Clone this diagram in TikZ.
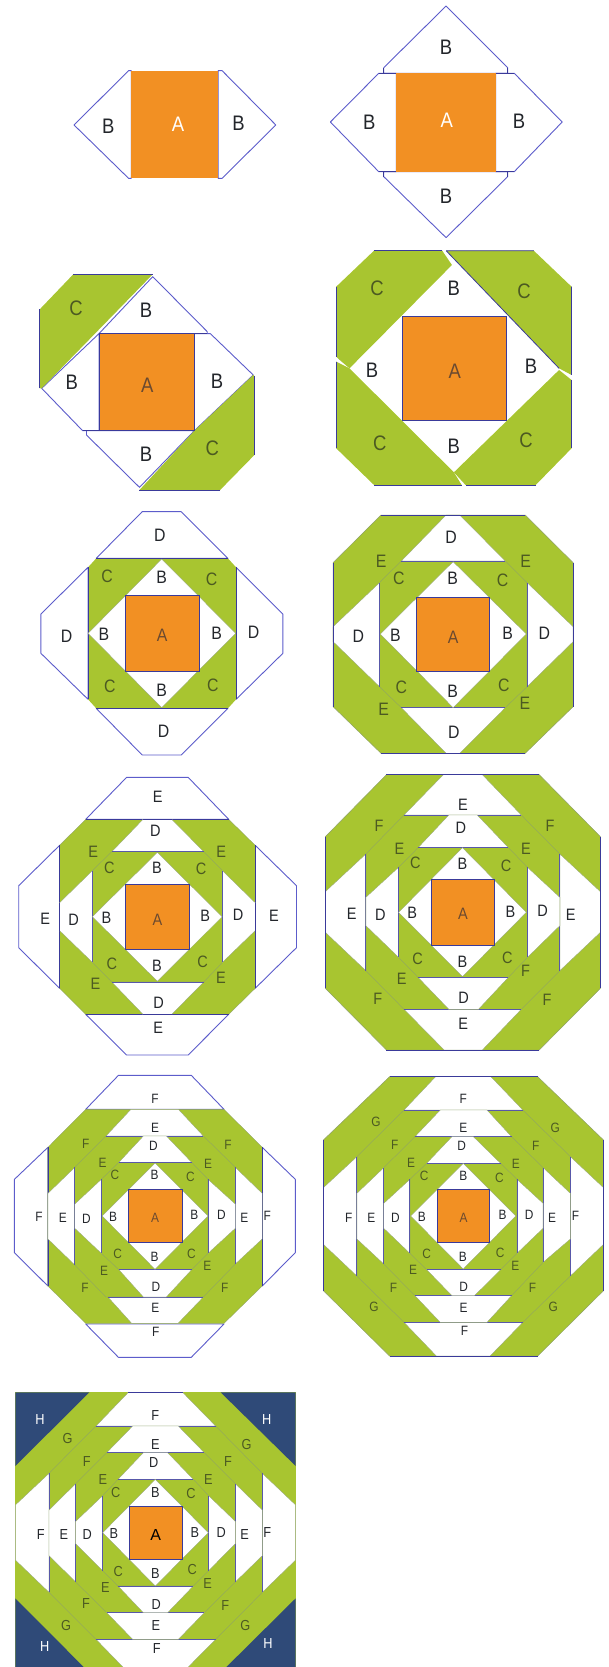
\documentclass[tikz,border=0pt]{standalone}
\usepackage{fontspec}
\setmainfont{Liberation Sans}
\definecolor{grn}{HTML}{A8C530}
\definecolor{org}{HTML}{F29023}
\definecolor{nvy}{HTML}{2F4A78}
\definecolor{lblu}{HTML}{5C5CCB}
\definecolor{dblu}{HTML}{3A3A9A}
\definecolor{edg}{HTML}{8FA268}
\definecolor{ink}{HTML}{23262B}
\definecolor{olv}{HTML}{4C5A22}
\definecolor{aink}{HTML}{6B4A30}
\tikzset{
  whitepiece/.style={fill=white,draw=edg,line width=0.35pt},
  outerpiece/.style={fill=white,draw=lblu,line width=0.9pt,line join=round},
  innerline/.style={draw=dblu!85!white,line width=0.8pt},
  ringgreen/.style={fill=grn,draw=edg,line width=0.35pt},
  outergreen/.style={fill=grn,draw=edg,line width=0.5pt,line join=round},
  sidegreen/.style={fill=grn,draw=none},
  edgeblue/.style={draw=dblu,line width=0.8pt},
  orangebox/.style={fill=org,draw=dblu,line width=0.8pt},
  plainorange/.style={fill=org,draw=none},
  hcorner/.style={fill=nvy,draw=none},
  lbl/.style={inner sep=0pt,font=\fontsize{\fs}{\fs}\selectfont},
}
\newcounter{lbc}
\def\fs{20}
\def\nar#1{\scalebox{0.88}[1]{#1}}
\def\lbl(#1)#2{\stepcounter{lbc}\node[lbl,text=ink] (n\thelbc) at (#1) {\nar{#2}};}
\def\lgr(#1)#2{\stepcounter{lbc}\node[lbl,text=olv] (n\thelbc) at (#1) {\nar{#2}};}
\def\lwh(#1)#2{\stepcounter{lbc}\node[lbl,text=white] (n\thelbc) at (#1) {\nar{#2}};}
\def\lor(#1)#2{\stepcounter{lbc}\node[lbl,text=aink] (n\thelbc) at (#1) {\nar{#2}};}
\def\wpc(#1)(#2)(#3)(#4){\filldraw[whitepiece] (#1)--(#2)--(#3)--(#4)--cycle; \draw[innerline] (#1)--(#2);}
\def\opc(#1)(#2)(#3)(#4){\filldraw[outerpiece] (#1)--(#2)--(#3)--(#4)--cycle;}
\def\octa[#1](#2)(#3)(#4)(#5)(#6)(#7)(#8)(#9){\filldraw[#1] (#2)--(#3)--(#4)--(#5)--(#6)--(#7)--(#8)--(#9)--cycle;}
\def\dia(#1)(#2)(#3)(#4){\filldraw[whitepiece] (#1)--(#2)--(#3)--(#4)--cycle;}
\def\orb(#1)(#2){\filldraw[orangebox] (#1) rectangle (#2);}
\begin{document}
\begin{tikzpicture}[x=1pt,y=1pt]
\useasboundingbox (0pt,0pt) rectangle (609pt,-1667pt);
\clip (0pt,0pt) rectangle (609pt,-1667pt);
%% top rows
\begin{scope}[x=0.3896pt,y=-0.33333pt]
\def\fs{21}
% block 1
\filldraw[outerpiece] (337,212)--(330,212)--(190,375)--(330,535)--(337,535)--cycle;
\filldraw[outerpiece] (560,212)--(570,212)--(708,375)--(570,535)--(560,535)--cycle;
\fill[plainorange] (337,212) rectangle (560,535);
\lbl(278,378){B}
\lwh(457,372){A}
\lbl(612,370){B}
% block 2
\filldraw[outerpiece] (985,220)--(985,203)--(1145,18)--(1303,203)--(1303,220)--cycle;
\filldraw[outerpiece] (985,515)--(985,530)--(1145,713)--(1303,530)--(1303,515)--cycle;
\filldraw[outerpiece] (1017,220)--(972,220)--(848,366)--(972,515)--(1017,515)--cycle;
\filldraw[outerpiece] (1272,220)--(1320,220)--(1443,366)--(1320,515)--(1272,515)--cycle;
\draw[edgeblue] (972,220)--(1017,220) (1272,220)--(1320,220) (972,515)--(1017,515) (1272,515)--(1320,515) (985,203)--(985,220) (1303,203)--(1303,220) (985,515)--(985,530) (1303,515)--(1303,530);
\fill[plainorange] (1017,220) rectangle (1272,515);
\lbl(1145,142){B}
\lbl(948,368){B}
\lwh(1147,360){A}
\lbl(1332,364){B}
\lbl(1145,588){B}
% block 3
\filldraw[outerpiece] (254,1001)--(392,830)--(532,995)--(532,1001)--cycle;
\filldraw[outerpiece] (499,1001)--(540,1001)--(650,1125)--(499,1292)--cycle;
\filldraw[outerpiece] (254,1001)--(107,1165)--(212,1292)--(254,1292)--cycle;
\filldraw[outerpiece] (222,1292)--(222,1305)--(358,1462)--(499,1292)--cycle;
\filldraw[sidegreen] (188,823)--(392,823)--(107,1165)--(102,1165)--(102,928)--cycle;
\draw[edgeblue] (392,823)--(188,823) (102,928)--(102,1165);
\filldraw[sidegreen] (650,1125)--(653,1128)--(653,1365)--(565,1470)--(358,1470)--(499,1292)--cycle;
\draw[edgeblue] (653,1128)--(653,1365) (565,1470)--(358,1470);
\draw[edgeblue] (499,1001)--(532,1001) (212,1292)--(254,1292);
\orb(254,1001)(499,1292)
\lgr(195,925){C}
\lbl(375,930){B}
\lbl(184,1148){B}
\lor(378,1155){A}
\lbl(557,1143){B}
\lbl(375,1362){B}
\lgr(545,1345){C}
% block 4
\filldraw[sidegreen] (960,752)--(1135,752)--(1160,795)--(897,1105)--(870,1078)--(863,1070)--(863,860)--cycle;
\draw[edgeblue] (1135,752)--(960,752) (863,860)--(863,1070);
\filldraw[sidegreen] (1145,752)--(1370,752)--(1467,860)--(1467,1125)--(1435,1105)--cycle;
\draw[edgeblue] (1145,752)--(1370,752) (1467,860)--(1467,1125) (1145,752)--(1435,1105);
\filldraw[sidegreen] (1467,1140)--(1467,1345)--(1375,1455)--(1195,1455)--(1165,1417)--(1435,1110)--cycle;
\draw[edgeblue] (1467,1140)--(1467,1345) (1375,1455)--(1195,1455);
\filldraw[sidegreen] (863,1085)--(863,1345)--(960,1455)--(1185,1455)--(1165,1417)--(897,1105)--cycle;
\draw[edgeblue] (863,1085)--(863,1345) (960,1455)--(1185,1455);
\orb(1032,948)(1300,1262)
\lgr(968,865){C}
\lbl(1165,865){B}
\lgr(1345,875){C}
\lbl(955,1110){B}
\lor(1167,1115){A}
\lbl(1363,1100){B}
\lgr(975,1330){C}
\lbl(1165,1340){B}
\lgr(1350,1320){C}
\end{scope}
%% row 3
\begin{scope}[x=0.3896pt,y=-0.33333pt,shift={(0pt,-490pt)}]
\def\fs{18}
% block 5
\opc(247,205)(585,205)(465,65)(365,65)
\opc(247,655)(585,655)(465,795)(365,795)
\opc(226,232)(226,628)(105,490)(105,372)
\opc(606,232)(606,628)(726,490)(726,372)
\filldraw[sidegreen] (247,205)--(585,205)--(606,232)--(606,628)--(585,655)--(247,655)--(226,628)--(226,232)--cycle;
\draw[edgeblue] (247,205)--(585,205) (247,655)--(585,655) (226,232)--(226,628) (606,232)--(606,628);
\dia(415,207)(605,430)(415,653)(226,430)
\orb(321,317)(511,543)
\lbl(410,136){D}
\lgr(275,258){C}
\lbl(415,262){B}
\lgr(543,268){C}
\lbl(171,440){D}
\lbl(267,432){B}
\lor(416,436){A}
\lbl(556,430){B}
\lbl(651,426){D}
\lgr(282,590){C}
\lbl(415,600){B}
\lgr(546,586){C}
\lbl(420,725){D}
% block 6
\octa[outergreen](978,75)(1348,75)(1471,218)(1471,650)(1348,790)(978,790)(855,650)(855,218)
\octa[ringgreen](1030,213)(1297,213)(1353,278)(1353,590)(1297,653)(1030,653)(974,590)(974,278)
\wpc(1030,213)(1297,213)(1180,75)(1145,75)
\wpc(1030,653)(1297,653)(1180,790)(1145,790)
\wpc(974,278)(974,590)(855,455)(855,410)
\wpc(1353,278)(1353,590)(1471,455)(1471,410)
\draw[edgeblue] (978,75)--(1348,75) (978,790)--(1348,790) (855,218)--(855,650) (1471,218)--(1471,650);
\dia(1163,215)(1351,432)(1163,653)(976,432)
\orb(1069,323)(1257,543)
\lbl(1158,142){D}
\lgr(978,213){E}
\lgr(1024,265){C}
\lbl(1162,265){B}
\lgr(1290,270){C}
\lgr(1349,213){E}
\lbl(920,440){D}
\lbl(1015,437){B}
\lor(1163,442){A}
\lbl(1303,430){B}
\lbl(1397,430){D}
\lgr(1030,592){C}
\lbl(1162,603){B}
\lgr(1293,585){C}
\lgr(985,658){E}
\lgr(1347,640){E}
\lbl(1165,727){D}
\end{scope}
%% row 4
\begin{scope}[x=0.3896pt,y=-0.33333pt,shift={(0pt,-760pt)}]
\def\fs{16.5}
% block 7
\opc(220,178)(587,178)(483,52)(325,52)
\opc(220,763)(587,763)(483,885)(325,885)
\opc(153,256)(153,685)(48,563)(48,377)
\opc(655,256)(655,685)(761,563)(761,377)
\octa[ringgreen](220,178)(587,178)(655,256)(655,685)(587,763)(220,763)(153,685)(153,256)
\draw[edgeblue] (220,178)--(587,178) (220,763)--(587,763) (153,256)--(153,685) (655,256)--(655,685);
\octa[ringgreen](287,275)(523,275)(571,332)(571,607)(523,666)(287,666)(237,607)(237,332)
\wpc(287,275)(523,275)(441,178)(367,178)
\wpc(287,666)(523,666)(441,763)(367,763)
\wpc(237,332)(237,607)(153,512)(153,428)
\wpc(571,332)(571,607)(655,512)(655,428)
\draw[edgeblue] (367,178)--(441,178) (367,763)--(441,763) (153,428)--(153,512) (655,428)--(655,512);
\dia(404,277)(570,470)(404,664)(237,470)
\orb(321,374)(487,568)
\lbl(405,110){E}
\lbl(399,212){D}
\lgr(239,275){E}
\lgr(281,322){C}
\lbl(403,322){B}
\lgr(516,327){C}
\lgr(568,275){E}
\lbl(116,475){E}
\lbl(189,478){D}
\lbl(273,472){B}
\lor(404,478){A}
\lbl(527,468){B}
\lbl(611,465){D}
\lbl(703,468){E}
\lgr(287,612){C}
\lbl(403,617){B}
\lgr(520,605){C}
\lgr(245,670){E}
\lgr(567,652){E}
\lbl(407,728){D}
\lbl(406,803){E}
% block 8
\octa[outergreen](992,44)(1384,44)(1541,230)(1541,685)(1384,870)(992,870)(835,685)(835,230)
\octa[ringgreen](1037,165)(1338,165)(1437,282)(1437,632)(1338,748)(1037,748)(939,632)(939,282)
\wpc(1037,165)(1338,165)(1238,44)(1138,44)
\wpc(1037,748)(1338,748)(1238,870)(1140,870)
\wpc(939,282)(939,632)(835,517)(835,395)
\wpc(1437,282)(1437,632)(1541,517)(1541,395)
\draw[edgeblue] (992,44)--(1384,44) (992,870)--(1384,870) (835,230)--(835,685) (1541,230)--(1541,685);
\octa[ringgreen](1073,263)(1305,263)(1354,322)(1354,592)(1305,652)(1073,652)(1023,592)(1023,322)
\wpc(1073,263)(1305,263)(1225,165)(1152,165)
\wpc(1073,652)(1305,652)(1228,748)(1152,748)
\wpc(1023,322)(1023,592)(939,497)(939,412)
\wpc(1354,322)(1354,592)(1437,497)(1437,412)
\dia(1187,263)(1351,457)(1187,650)(1023,457)
\orb(1106,359)(1270,555)
\lbl(1188,133){E}
\lbl(1183,202){D}
\lgr(973,198){F}
\lgr(1412,198){F}
\lgr(1025,265){E}
\lgr(1350,265){E}
\lgr(1066,307){C}
\lbl(1187,310){B}
\lgr(1299,317){C}
\lbl(903,462){E}
\lbl(976,465){D}
\lbl(1058,458){B}
\lor(1188,462){A}
\lbl(1310,456){B}
\lbl(1393,453){D}
\lbl(1465,465){E}
\lgr(1072,597){C}
\lbl(1187,604){B}
\lgr(1302,593){C}
\lgr(1349,633){F}
\lgr(1031,657){E}
\lbl(1190,713){D}
\lgr(970,715){F}
\lgr(1404,720){F}
\lbl(1189,790){E}
\end{scope}
%% row 5
\begin{scope}[x=0.3896pt,y=-0.33333pt,shift={(0pt,-1060pt)}]
\def\fs{13.5}
% block 9
\opc(220,148)(575,148)(491,46)(304,46)
\opc(220,792)(575,792)(491,892)(304,892)
\opc(123,262)(123,678)(37,578)(37,358)
\opc(673,262)(673,678)(758,578)(758,358)
\octa[ringgreen](220,148)(575,148)(673,262)(673,678)(575,790)(220,790)(123,678)(123,262)
\draw[edgeblue] (123,262)--(123,678) (673,262)--(673,678);
\octa[ringgreen](272,228)(522,228)(604,322)(604,612)(522,711)(272,711)(192,615)(192,322)
\wpc(272,228)(522,228)(458,148)(336,148)
\wpc(277,711)(522,711)(457,790)(338,790)
\wpc(192,322)(192,615)(123,537)(123,400)
\wpc(604,322)(604,612)(673,537)(673,400)
\octa[ringgreen](305,307)(492,307)(534,358)(534,580)(492,629)(305,629)(260,580)(260,358)
\wpc(305,307)(492,307)(427,228)(368,228)
\wpc(305,629)(492,629)(427,711)(368,711)
\wpc(260,358)(260,580)(192,505)(192,432)
\wpc(534,358)(534,580)(604,505)(604,432)
\dia(398,309)(534,468)(398,628)(262,468)
\orb(329,389)(467,548)
\lbl(398,118){F}
\lbl(398,203){E}
\lgr(220,253){F}
\lbl(394,258){D}
\lgr(585,255){F}
\lgr(263,308){E}
\lgr(534,312){E}
\lgr(295,345){C}
\lbl(397,345){B}
\lgr(489,352){C}
\lbl(100,472){F}
\lbl(161,474){E}
\lbl(222,476){D}
\lbl(290,470){B}
\lor(398,473){A}
\lbl(499,465){B}
\lbl(568,465){D}
\lbl(627,473){E}
\lbl(686,468){F}
\lgr(302,582){C}
\lbl(397,592){B}
\lgr(491,581){C}
\lgr(267,632){E}
\lgr(532,618){E}
\lbl(400,681){D}
\lgr(218,683){F}
\lgr(577,685){F}
\lbl(399,744){E}
\lbl(400,815){F}
% block 10
\octa[outergreen](1000,50)(1380,50)(1549,240)(1549,692)(1380,888)(1000,888)(830,692)(830,240)
\octa[ringgreen](1037,150)(1342,150)(1464,290)(1464,648)(1342,787)(1037,787)(916,648)(916,290)
\wpc(1037,150)(1342,150)(1260,50)(1118,50)
\wpc(1037,787)(1342,787)(1258,888)(1120,888)
\wpc(916,290)(916,648)(830,553)(830,383)
\wpc(1464,290)(1464,648)(1549,553)(1549,383)
\draw[edgeblue] (1000,50)--(1380,50) (1000,888)--(1380,888) (830,240)--(830,692) (1549,240)--(1549,692);
\octa[ringgreen](1065,230)(1313,230)(1394,323)(1394,607)(1313,707)(1065,707)(985,612)(985,323)
\wpc(1065,230)(1313,230)(1250,150)(1130,150)
\wpc(1065,707)(1313,707)(1250,787)(1130,787)
\wpc(985,323)(985,612)(916,537)(916,400)
\wpc(1394,323)(1394,607)(1464,537)(1464,400)
\octa[ringgreen](1095,310)(1285,310)(1327,358)(1327,580)(1285,629)(1095,629)(1052,580)(1052,358)
\wpc(1095,310)(1285,310)(1215,230)(1160,230)
\wpc(1095,629)(1285,629)(1218,707)(1160,707)
\wpc(1052,358)(1052,580)(985,505)(985,430)
\wpc(1327,358)(1327,580)(1394,505)(1394,430)
\dia(1189,310)(1324,468)(1189,627)(1054,468)
\orb(1122,389)(1257,547)
\lbl(1189,118){F}
\lbl(1189,204){E}
\lgr(965,187){G}
\lgr(1425,205){G}
\lgr(1013,255){F}
\lbl(1185,257){D}
\lgr(1375,257){F}
\lgr(1055,310){E}
\lgr(1324,312){E}
\lgr(1089,347){C}
\lbl(1189,347){B}
\lgr(1282,354){C}
\lbl(895,473){F}
\lbl(953,473){E}
\lbl(1015,473){D}
\lbl(1083,472){B}
\lor(1190,473){A}
\lbl(1290,466){B}
\lbl(1358,466){D}
\lbl(1417,473){E}
\lbl(1477,467){F}
\lgr(1095,583){C}
\lbl(1188,590){B}
\lgr(1284,580){C}
\lgr(1060,630){E}
\lgr(1323,618){E}
\lbl(1190,680){D}
\lgr(1010,683){F}
\lgr(1367,685){F}
\lgr(960,742){G}
\lgr(1420,742){G}
\lbl(1190,743){E}
\lbl(1192,812){F}
\end{scope}
%% block 11
\begin{scope}[x=0.33333pt,y=-0.33333pt,shift={(0pt,-1380pt)}]
\def\fs{14.5}
\fill[grn] (46,37) rectangle (887,878);
\fill[hcorner] (46,37)--(268,37)--(46,258)--cycle;
\fill[hcorner] (887,37)--(662,37)--(887,258)--cycle;
\fill[hcorner] (46,655)--(46,878)--(268,878)--cycle;
\fill[hcorner] (887,655)--(887,878)--(662,878)--cycle;
\octa[ringgreen](288,138)(647,138)(787,280)(787,637)(647,778)(288,778)(147,637)(147,280)
\wpc(288,138)(647,138)(548,37)(385,37)
\wpc(288,778)(647,778)(548,878)(385,878)
\wpc(147,280)(147,637)(46,540)(46,375)
\wpc(787,280)(787,637)(887,540)(887,375)
\draw[edgeblue] (385,37)--(548,37);
\octa[ringgreen](320,218)(613,218)(707,312)(707,605)(613,698)(320,698)(226,605)(226,312)
\wpc(320,218)(613,218)(535,138)(398,138)
\wpc(320,698)(613,698)(535,778)(398,778)
\wpc(226,312)(226,605)(147,527)(147,390)
\wpc(707,312)(707,605)(787,527)(787,390)
\octa[ringgreen](354,298)(580,298)(626,347)(626,572)(580,618)(354,618)(308,572)(308,347)
\wpc(354,298)(580,298)(503,218)(430,218)
\wpc(354,618)(580,618)(503,698)(430,698)
\wpc(308,347)(308,572)(226,490)(226,425)
\wpc(626,347)(626,572)(707,490)(707,425)
\dia(466,298)(625,458)(466,618)(308,458)
\orb(387,379)(547,538)
\lwh(120,118){H}
\lwh(800,118){H}
\lwh(134,798){H}
\lwh(804,791){H}
\lbl(466,107){F}
\lbl(466,193){E}
\lgr(203,176){G}
\lgr(740,193){G}
\lgr(260,243){F}
\lgr(684,245){F}
\lbl(461,246){D}
\lgr(309,299){E}
\lgr(625,299){E}
\lgr(347,336){C}
\lbl(466,336){B}
\lgr(573,341){C}
\lbl(122,464){F}
\lbl(192,464){E}
\lbl(262,464){D}
\lbl(342,461){B}
\stepcounter{lbc}\node[lbl,text=black,font=\fontsize{16}{16}\selectfont] (n\thelbc) at (467,464) {A};
\lbl(585,457){B}
\lbl(664,457){D}
\lbl(734,464){E}
\lbl(802,458){F}
\lgr(355,574){C}
\lbl(466,581){B}
\lgr(577,569){C}
\lgr(316,622){E}
\lgr(623,609){E}
\lbl(469,672){D}
\lgr(258,671){F}
\lgr(676,677){F}
\lbl(468,735){E}
\lgr(198,735){G}
\lgr(736,735){G}
\lbl(470,804){F}
\end{scope}
\end{tikzpicture}
\end{document}
